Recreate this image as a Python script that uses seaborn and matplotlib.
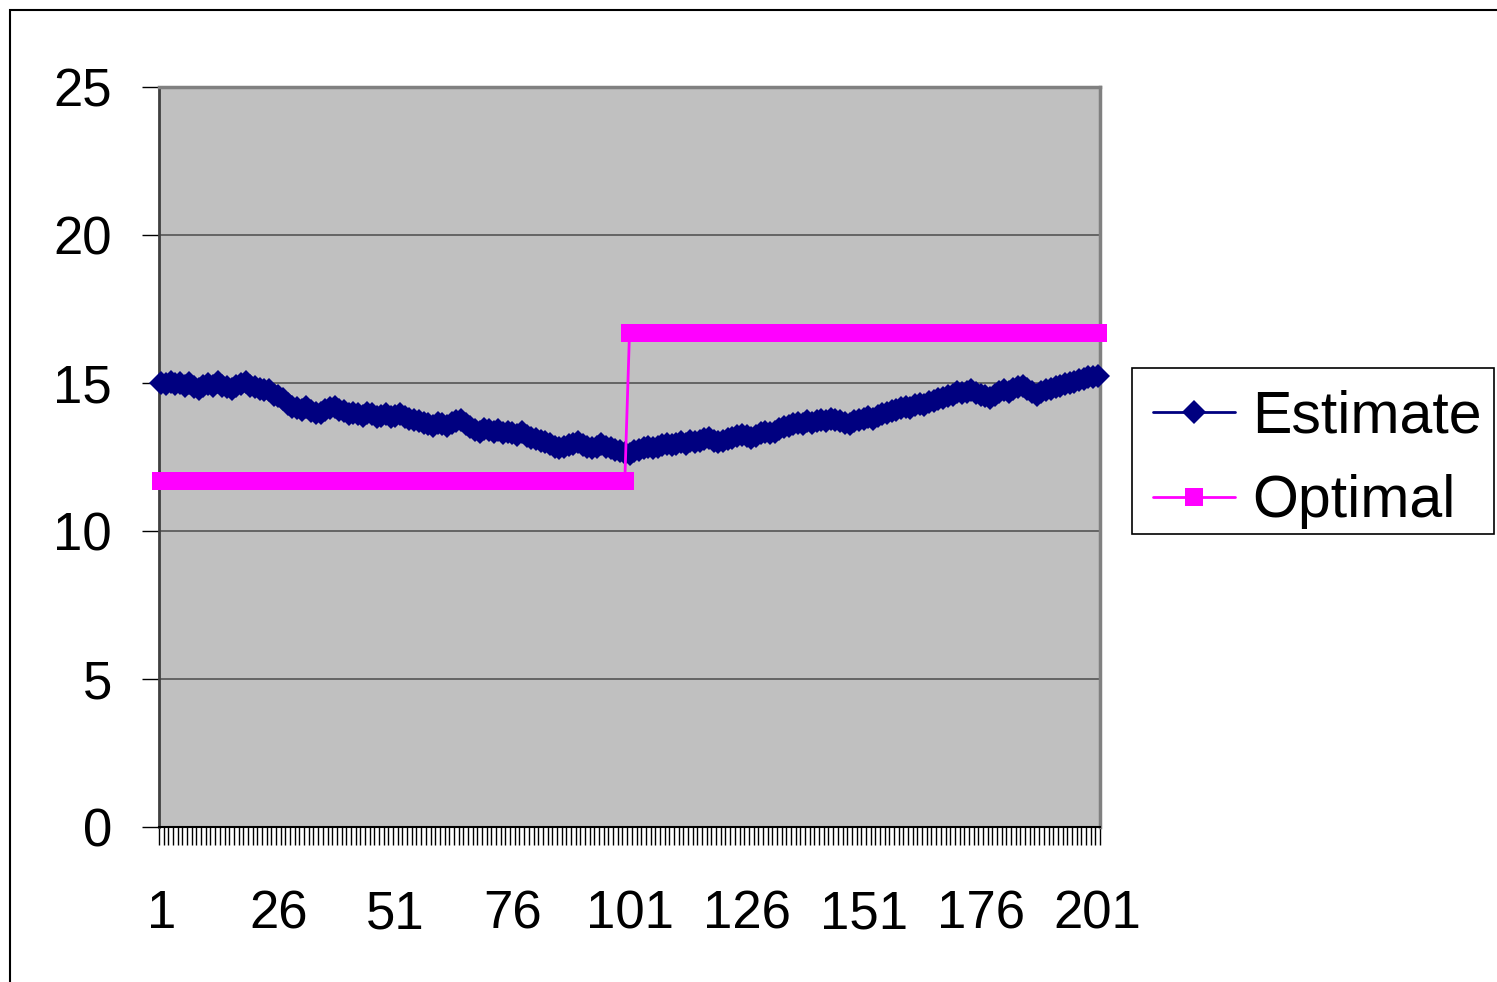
import numpy as np
import pandas as pd
import matplotlib
matplotlib.use("Agg")
import matplotlib.pyplot as plt
import seaborn as sns
from matplotlib.patches import Rectangle

periods = list(range(1, 202))

estimate = [
    15.0, 14.95, 15.05, 14.95, 15.0, 14.9, 15.0, 14.85, 14.8, 14.9,
    14.95, 14.9, 15.05, 14.9, 14.85, 14.8, 14.9, 14.95, 15.05, 14.9,
    14.85, 14.8, 14.75, 14.75, 14.6, 14.55, 14.45, 14.3, 14.2, 14.15,
    14.1, 14.2, 14.05, 14.0, 14.0, 14.1, 14.15, 14.2, 14.1, 14.05,
    13.95, 14.0, 13.95, 13.9, 14.0, 13.95, 13.85, 13.9, 13.95, 13.85,
    13.9, 13.95, 13.85, 13.8, 13.75, 13.7, 13.65, 13.6, 13.55, 13.65,
    13.6, 13.55, 13.65, 13.7, 13.75, 13.6, 13.5, 13.4, 13.35, 13.45,
    13.4, 13.35, 13.4, 13.3, 13.35, 13.3, 13.25, 13.35, 13.2, 13.15,
    13.1, 13.05, 13.0, 12.95, 12.85, 12.8, 12.85, 12.9, 12.95, 13.0,
    12.9, 12.85, 12.8, 12.85, 12.95, 12.85, 12.8, 12.75, 12.7, 12.65,
    12.6, 12.7, 12.75, 12.8, 12.85, 12.8, 12.85, 12.9, 12.95, 12.9,
    12.95, 13.0, 12.95, 13.05, 13.0, 13.05, 13.1, 13.15, 13.05, 13.0,
    13.05, 13.1, 13.15, 13.2, 13.25, 13.2, 13.15, 13.2, 13.3, 13.35,
    13.3, 13.35, 13.45, 13.5, 13.55, 13.6, 13.65, 13.6, 13.7, 13.65,
    13.7, 13.75, 13.7, 13.8, 13.75, 13.7, 13.65, 13.6, 13.7, 13.75,
    13.8, 13.85, 13.8, 13.9, 13.95, 14.0, 14.05, 14.1, 14.15, 14.2,
    14.15, 14.25, 14.3, 14.25, 14.35, 14.4, 14.45, 14.5, 14.55, 14.6,
    14.7, 14.65, 14.7, 14.75, 14.65, 14.6, 14.55, 14.5, 14.6, 14.7,
    14.75, 14.7, 14.8, 14.85, 14.9, 14.8, 14.7, 14.6, 14.7, 14.75,
    14.8, 14.85, 14.9, 14.95, 15.0, 15.05, 15.1, 15.15, 15.2, 15.2,
    15.25,
]

optimal = [11.7] * 100 + [16.7] * 101

x_tick_values = [1, 26, 51, 76, 101, 126, 151, 176, 201]
x_tick_labels = ["1", "26", "51", "76", "101", "126", "151", "176", "201"]
y_tick_values = [0, 5, 10, 15, 20, 25]
y_tick_labels = ["0", "5", "10", "15", "20", "25"]

sns.set_style("white")
plt.rcParams["font.family"] = ["Liberation Sans", "DejaVu Sans"]
plt.rcParams["text.color"] = "black"
plt.rcParams["xtick.color"] = "black"
plt.rcParams["ytick.color"] = "black"
plt.rcParams["xtick.labelcolor"] = "black"
plt.rcParams["ytick.labelcolor"] = "black"

W, H = 1497, 982
fig = plt.figure(figsize=(W / 100, H / 100), dpi=100)
ax = fig.add_axes([159 / W, 1 - 827 / H, (1100 - 159) / W, (827 - 87) / H])
ax.set_facecolor("#C0C0C0")

df = pd.DataFrame({"period": periods, "Estimate": estimate, "Optimal": optimal})

sns.lineplot(data=df, x="period", y="Estimate", ax=ax, color="#000080",
             marker="D", markersize=12, markeredgewidth=0, linewidth=2,
             label="Estimate", errorbar=None, zorder=3, clip_on=False)
sns.lineplot(data=df, x="period", y="Optimal", ax=ax, color="#FF00FF",
             marker="s", markersize=13, markeredgewidth=0, linewidth=2,
             label="Optimal", errorbar=None, zorder=4, clip_on=False)

ax.set_xlim(0.5, 201.5)
ax.set_ylim(0, 25)
ax.set_xlabel("")
ax.set_ylabel("")

# category boundary tick marks
ax.set_xticks(np.arange(0.5, 202, 1.0))
ax.set_xticklabels([])
ax.tick_params(axis="x", which="major", direction="out", length=13, width=1,
               color="black", bottom=True)
ax.set_xticks(x_tick_values, minor=True)
ax.set_xticklabels(x_tick_labels, minor=True, fontsize=38)
ax.tick_params(axis="x", which="minor", length=0, pad=45, bottom=True,
               labelcolor="black")

ax.set_yticks(y_tick_values)
ax.set_yticklabels(y_tick_labels, fontsize=38)
ax.tick_params(axis="y", direction="out", length=12, width=1, color="black",
               pad=22, left=True, labelcolor="black")

ax.yaxis.grid(True, color="#555555", linewidth=1.2)
ax.xaxis.grid(False)
ax.set_axisbelow(True)

for s in ["top", "right"]:
    ax.spines[s].set_color("#808080")
    ax.spines[s].set_linewidth(2.5)
ax.spines["left"].set_color("#404040")
ax.spines["left"].set_linewidth(2)
ax.spines["bottom"].set_color("black")
ax.spines["bottom"].set_linewidth(1.5)

ax.get_legend().remove()
handles, labels = ax.get_legend_handles_labels()
leg = fig.legend(handles, labels, loc="upper left",
                 bbox_to_anchor=(1135 / W, 1 - 372 / H),
                 bbox_transform=fig.transFigure, fontsize=42.5,
                 frameon=False,
                 handlelength=1.39, handletextpad=0.3, borderpad=0.3,
                 labelspacing=0.5, borderaxespad=0)
for t in leg.get_texts():
    t.set_color("black")

# legend frame
fig.patches.append(Rectangle((1132 / W, 1 - 534 / H), (1494 - 1132) / W,
                             (534 - 368) / H, transform=fig.transFigure,
                             facecolor="white", edgecolor="black",
                             linewidth=1.2, zorder=0))

# outer chart border
fig.patches.append(Rectangle((10 / W, -0.5), 2, 1.5 - 10 / H,
                             transform=fig.transFigure, fill=False,
                             edgecolor="black", linewidth=1.5))

fig.savefig("out.png", dpi=100, facecolor="white")
